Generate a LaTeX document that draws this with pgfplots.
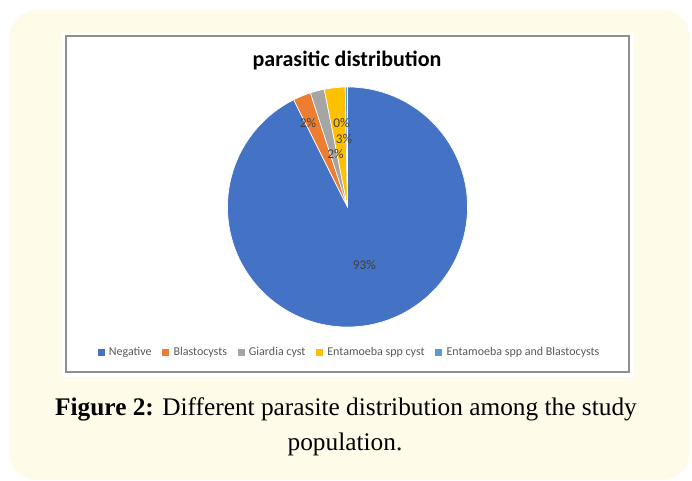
\documentclass[border=0pt]{standalone}
\usepackage{pgfplots}
\pgfplotsset{compat=1.18}
\usepackage{pgfplotstable}
\usepackage{fontspec}
\setmainfont{Liberation Serif}
\newfontfamily\calibri{Carlito}
\definecolor{pie0}{HTML}{4472C4}
\definecolor{pie1}{HTML}{ED7D31}
\definecolor{pie2}{HTML}{A5A5A5}
\definecolor{pie3}{HTML}{FFC000}
\definecolor{pie4}{HTML}{5B9BD5}
\definecolor{boxbg}{RGB}{255,251,233}
\definecolor{lbl}{HTML}{404040}
\definecolor{leg}{HTML}{595959}
\definecolor{frame}{HTML}{8F8F8F}

% share of each group, percent (Negative, Blastocysts, Giardia cyst,
% Entamoeba spp cyst, Entamoeba spp and Blastocysts)
\pgfplotstableread{
idx value
0 92.6
1 2.4
2 1.9
3 2.8
4 0.3
}\piedata

\begin{document}
\begin{tikzpicture}[x=0.75pt,y=0.75pt]
\fill[white] (0,0) rectangle (692,481);
\fill[boxbg, rounded corners=21pt] (9,1) rectangle (690,471);
\fill[white] (62,104) rectangle (634,448);
\draw[frame, line width=1.1pt] (66,109) rectangle (629,445);

\node[font=\calibri\bfseries\fontsize{16.5}{19}\selectfont, text=black, anchor=base] at (347,414) {parasitic distribution};

% cumulative angles (clockwise from 12 o'clock)
\def\cum{0}
\pgfplotsforeachungrouped \i in {0,...,4}{%
  \pgfplotstablegetelem{\i}{value}\of\piedata
  \pgfmathsetmacro\st{90-3.6*\cum}%
  \pgfmathsetmacro\cum{\cum+\pgfplotsretval}%
  \pgfmathsetmacro\en{90-3.6*\cum}%
  \expandafter\xdef\csname pieS\i\endcsname{\st}%
  \expandafter\xdef\csname pieE\i\endcsname{\en}%
}

\begin{axis}[
  at={(260.625pt,205.5pt)}, anchor=origin,
  x=90pt, y=90pt,
  xmin=-1.05, xmax=1.05, ymin=-1.05, ymax=1.05,
  hide axis, clip=false,
  legend columns=5,
  legend cell align=left,
  legend style={draw=none, fill=none, text=leg,
    font=\calibri\fontsize{9}{11}\selectfont,
    at={(0.5095,-0.0752)}, anchor=center,
    /tikz/every odd column/.append style={column sep=1.5pt},
    /tikz/every even column/.append style={column sep=6pt}},
]
\pgfplotsinvokeforeach{0,...,4}{%
  \edef\temp{\noexpand\fill[pie#1, draw=white, line width=0.5pt]
    (axis cs:0,0) -- (axis cs:{cos(\csname pieS#1\endcsname)},{sin(\csname pieS#1\endcsname)})
    arc[start angle=\csname pieS#1\endcsname, end angle=\csname pieE#1\endcsname, radius=90pt] -- cycle;}%
  \temp
}
\addlegendimage{legend image code/.code={\fill[pie0] (0pt,-2.25pt) rectangle (4.5pt,2.25pt);}}
\addlegendimage{legend image code/.code={\fill[pie1] (0pt,-2.25pt) rectangle (4.5pt,2.25pt);}}
\addlegendimage{legend image code/.code={\fill[pie2] (0pt,-2.25pt) rectangle (4.5pt,2.25pt);}}
\addlegendimage{legend image code/.code={\fill[pie3] (0pt,-2.25pt) rectangle (4.5pt,2.25pt);}}
\addlegendimage{legend image code/.code={\fill[pie4] (0pt,-2.25pt) rectangle (4.5pt,2.25pt);}}
\legend{Negative, Blastocysts, Giardia cyst, Entamoeba spp cyst, Entamoeba spp and Blastocysts}

\begin{scope}[every node/.style={font=\calibri\fontsize{10}{12}\selectfont, text=lbl}]
\node at (axis cs:0.14,-0.48) {93\%};
\node at (axis cs:-0.33,0.70) {2\%};
\node at (axis cs:-0.05,0.70) {0\%};
\node at (axis cs:-0.03,0.57) {3\%};
\node at (axis cs:-0.10,0.44) {2\%};
\end{scope}
\end{axis}

\node[anchor=base, font=\fontsize{19}{22}\selectfont] at (346,65) {\textbf{Figure 2:} Different parasite distribution among the study};
\node[anchor=base, font=\fontsize{19}{22}\selectfont] at (345,30) {population.};
\end{tikzpicture}
\end{document}
